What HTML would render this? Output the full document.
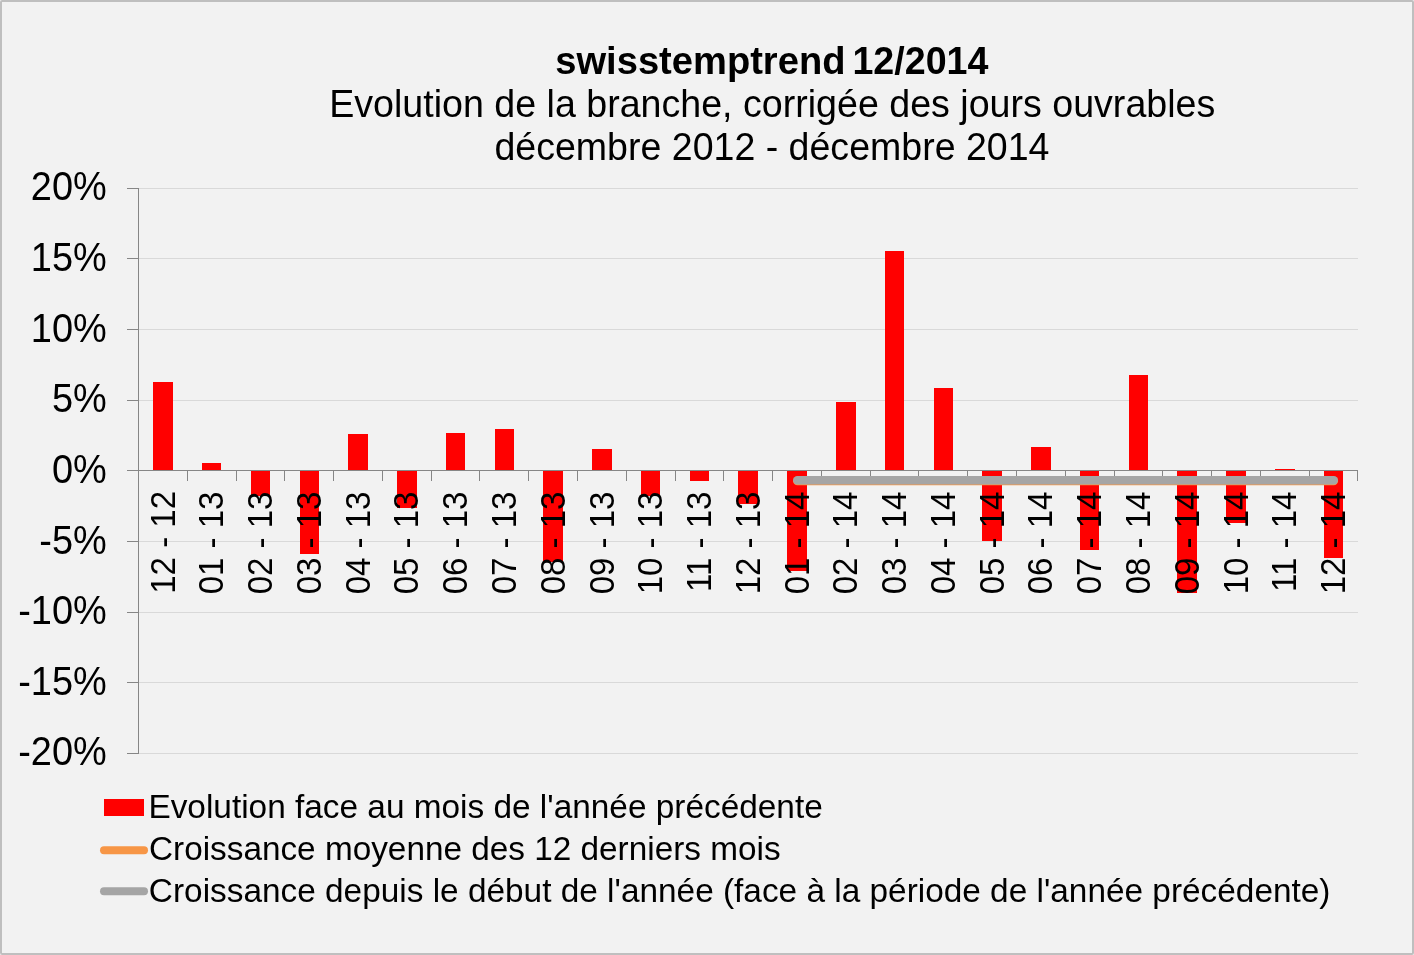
<!DOCTYPE html>
<html lang="fr"><head><meta charset="utf-8"><title>swisstemptrend 12/2014</title>
<style>html,body{margin:0;padding:0;background:#f2f2f2;overflow:hidden}svg{display:block}text{font-family:"Liberation Sans",sans-serif;fill:#000}.g{fill:#d9d9d9}.a{fill:#868686}.b{fill:#ff0000}</style></head><body>
<svg width="1414" height="955" viewBox="0 0 1414 955">
<rect x="0" y="0" width="1414" height="955" fill="#f2f2f2"/>
<rect x="1" y="1" width="1412" height="953" rx="1.2" ry="1.2" fill="none" stroke="#bfbfbf" stroke-width="2"/>
<g shape-rendering="crispEdges">
<rect class="g" x="139" y="188" width="1219" height="1"/>
<rect class="g" x="139" y="258" width="1219" height="1"/>
<rect class="g" x="139" y="329" width="1219" height="1"/>
<rect class="g" x="139" y="400" width="1219" height="1"/>
<rect class="g" x="139" y="541" width="1219" height="1"/>
<rect class="g" x="139" y="612" width="1219" height="1"/>
<rect class="g" x="139" y="682" width="1219" height="1"/>
<rect class="g" x="139" y="753" width="1219" height="1"/>
<rect class="b" x="153" y="382" width="20" height="88"/>
<rect class="b" x="202" y="463" width="19" height="7"/>
<rect class="b" x="251" y="471" width="19" height="25"/>
<rect class="b" x="300" y="471" width="19" height="83"/>
<rect class="b" x="348" y="434" width="20" height="36"/>
<rect class="b" x="397" y="471" width="20" height="37"/>
<rect class="b" x="446" y="433" width="19" height="37"/>
<rect class="b" x="495" y="429" width="19" height="41"/>
<rect class="b" x="543" y="471" width="20" height="91"/>
<rect class="b" x="592" y="449" width="20" height="21"/>
<rect class="b" x="641" y="471" width="19" height="25"/>
<rect class="b" x="690" y="471" width="19" height="10"/>
<rect class="b" x="738" y="471" width="20" height="33"/>
<rect class="b" x="787" y="471" width="20" height="100"/>
<rect class="b" x="836" y="402" width="20" height="68"/>
<rect class="b" x="885" y="251" width="19" height="219"/>
<rect class="b" x="934" y="388" width="19" height="82"/>
<rect class="b" x="982" y="471" width="20" height="70"/>
<rect class="b" x="1031" y="447" width="20" height="23"/>
<rect class="b" x="1080" y="471" width="19" height="79"/>
<rect class="b" x="1129" y="375" width="19" height="95"/>
<rect class="b" x="1177" y="471" width="20" height="122"/>
<rect class="b" x="1226" y="471" width="20" height="52"/>
<rect class="b" x="1275" y="469" width="20" height="1"/>
<rect class="b" x="1324" y="471" width="19" height="87"/>
<rect class="a" x="138" y="188" width="1" height="566"/>
<rect class="a" x="127" y="188" width="11" height="1"/>
<rect class="a" x="127" y="258" width="11" height="1"/>
<rect class="a" x="127" y="329" width="11" height="1"/>
<rect class="a" x="127" y="400" width="11" height="1"/>
<rect class="a" x="127" y="470" width="11" height="1"/>
<rect class="a" x="127" y="541" width="11" height="1"/>
<rect class="a" x="127" y="612" width="11" height="1"/>
<rect class="a" x="127" y="682" width="11" height="1"/>
<rect class="a" x="127" y="753" width="11" height="1"/>
<rect class="a" x="138" y="470" width="1220" height="1"/>
<rect class="a" x="187" y="471" width="1" height="10"/>
<rect class="a" x="236" y="471" width="1" height="10"/>
<rect class="a" x="284" y="471" width="1" height="10"/>
<rect class="a" x="333" y="471" width="1" height="10"/>
<rect class="a" x="382" y="471" width="1" height="10"/>
<rect class="a" x="431" y="471" width="1" height="10"/>
<rect class="a" x="479" y="471" width="1" height="10"/>
<rect class="a" x="528" y="471" width="1" height="10"/>
<rect class="a" x="577" y="471" width="1" height="10"/>
<rect class="a" x="626" y="471" width="1" height="10"/>
<rect class="a" x="675" y="471" width="1" height="10"/>
<rect class="a" x="723" y="471" width="1" height="10"/>
<rect class="a" x="772" y="471" width="1" height="10"/>
<rect class="a" x="821" y="471" width="1" height="10"/>
<rect class="a" x="870" y="471" width="1" height="10"/>
<rect class="a" x="918" y="471" width="1" height="10"/>
<rect class="a" x="967" y="471" width="1" height="10"/>
<rect class="a" x="1016" y="471" width="1" height="10"/>
<rect class="a" x="1065" y="471" width="1" height="10"/>
<rect class="a" x="1114" y="471" width="1" height="10"/>
<rect class="a" x="1162" y="471" width="1" height="10"/>
<rect class="a" x="1211" y="471" width="1" height="10"/>
<rect class="a" x="1260" y="471" width="1" height="10"/>
<rect class="a" x="1309" y="471" width="1" height="10"/>
<rect class="a" x="1357" y="471" width="1" height="10"/>
</g>
<line x1="797.3" y1="481.15" x2="1333.8" y2="481.15" stroke="#f79646" stroke-width="8.4" stroke-linecap="round"/>
<line x1="797.3" y1="480.2" x2="1333.8" y2="480.2" stroke="#a5a5a5" stroke-width="8.4" stroke-linecap="round"/>
<text y="73.7" font-size="38.2" font-weight="bold"><tspan x="555.28" textLength="290.19" lengthAdjust="spacingAndGlyphs">swisstemptrend</tspan> <tspan x="852.39" textLength="136.06" lengthAdjust="spacingAndGlyphs">12/2014</tspan></text>
<text transform="translate(329.21,117.00) scale(0.9845,1)" font-size="38.2">Evolution de la branche, corrigée des jours ouvrables</text>
<text transform="translate(494.41,159.90) scale(0.9831,1)" font-size="38.2">décembre 2012 - décembre 2014</text>
<text transform="translate(148.39,818.20) scale(0.9817,1)" font-size="34.0">Evolution face au mois de l'année précédente</text>
<text transform="translate(148.98,860.00) scale(0.9804,1)" font-size="34.0">Croissance moyenne des 12 derniers mois</text>
<text transform="translate(148.86,901.80) scale(0.9816,1)" font-size="34.0">Croissance depuis le début de l'année (face à la période de l'année précédente)</text>
<text transform="translate(106.77,200.00) scale(0.9442,1)" font-size="40.2" text-anchor="end">20%</text>
<text transform="translate(106.77,271.00) scale(0.9442,1)" font-size="40.2" text-anchor="end">15%</text>
<text transform="translate(106.77,342.00) scale(0.9442,1)" font-size="40.2" text-anchor="end">10%</text>
<text transform="translate(106.77,412.00) scale(0.9442,1)" font-size="40.2" text-anchor="end">5%</text>
<text transform="translate(106.77,483.00) scale(0.9442,1)" font-size="40.2" text-anchor="end">0%</text>
<text transform="translate(106.77,554.00) scale(0.9442,1)" font-size="40.2" text-anchor="end">-5%</text>
<text transform="translate(106.77,624.00) scale(0.9442,1)" font-size="40.2" text-anchor="end">-10%</text>
<text transform="translate(106.77,695.00) scale(0.9442,1)" font-size="40.2" text-anchor="end">-15%</text>
<text transform="translate(106.77,765.00) scale(0.9442,1)" font-size="40.2" text-anchor="end">-20%</text>
<text transform="translate(174.58,490.90) rotate(-90) scale(0.9525,1)" font-size="34.7" text-anchor="end">12 - 12</text>
<text transform="translate(223.35,491.50) rotate(-90) scale(0.9525,1)" font-size="34.7" text-anchor="end">01 - 13</text>
<text transform="translate(272.12,491.50) rotate(-90) scale(0.9525,1)" font-size="34.7" text-anchor="end">02 - 13</text>
<text transform="translate(320.90,491.50) rotate(-90) scale(0.9525,1)" font-size="34.7" text-anchor="end">03 - 13</text>
<text transform="translate(369.67,491.50) rotate(-90) scale(0.9525,1)" font-size="34.7" text-anchor="end">04 - 13</text>
<text transform="translate(418.44,491.50) rotate(-90) scale(0.9525,1)" font-size="34.7" text-anchor="end">05 - 13</text>
<text transform="translate(467.20,491.50) rotate(-90) scale(0.9525,1)" font-size="34.7" text-anchor="end">06 - 13</text>
<text transform="translate(515.98,491.50) rotate(-90) scale(0.9525,1)" font-size="34.7" text-anchor="end">07 - 13</text>
<text transform="translate(564.75,491.50) rotate(-90) scale(0.9525,1)" font-size="34.7" text-anchor="end">08 - 13</text>
<text transform="translate(613.52,491.50) rotate(-90) scale(0.9525,1)" font-size="34.7" text-anchor="end">09 - 13</text>
<text transform="translate(662.29,491.50) rotate(-90) scale(0.9525,1)" font-size="34.7" text-anchor="end">10 - 13</text>
<text transform="translate(711.06,491.50) rotate(-90) scale(0.9525,1)" font-size="34.7" text-anchor="end">11 - 13</text>
<text transform="translate(759.83,491.50) rotate(-90) scale(0.9525,1)" font-size="34.7" text-anchor="end">12 - 13</text>
<text transform="translate(808.60,491.50) rotate(-90) scale(0.9525,1)" font-size="34.7" text-anchor="end">01 - 14</text>
<text transform="translate(857.37,491.50) rotate(-90) scale(0.9525,1)" font-size="34.7" text-anchor="end">02 - 14</text>
<text transform="translate(906.14,491.50) rotate(-90) scale(0.9525,1)" font-size="34.7" text-anchor="end">03 - 14</text>
<text transform="translate(954.91,491.50) rotate(-90) scale(0.9525,1)" font-size="34.7" text-anchor="end">04 - 14</text>
<text transform="translate(1003.68,491.50) rotate(-90) scale(0.9525,1)" font-size="34.7" text-anchor="end">05 - 14</text>
<text transform="translate(1052.44,491.50) rotate(-90) scale(0.9525,1)" font-size="34.7" text-anchor="end">06 - 14</text>
<text transform="translate(1101.22,491.50) rotate(-90) scale(0.9525,1)" font-size="34.7" text-anchor="end">07 - 14</text>
<text transform="translate(1149.99,491.50) rotate(-90) scale(0.9525,1)" font-size="34.7" text-anchor="end">08 - 14</text>
<text transform="translate(1198.76,491.50) rotate(-90) scale(0.9525,1)" font-size="34.7" text-anchor="end">09 - 14</text>
<text transform="translate(1247.53,491.50) rotate(-90) scale(0.9525,1)" font-size="34.7" text-anchor="end">10 - 14</text>
<text transform="translate(1296.30,491.50) rotate(-90) scale(0.9525,1)" font-size="34.7" text-anchor="end">11 - 14</text>
<text transform="translate(1345.07,491.50) rotate(-90) scale(0.9525,1)" font-size="34.7" text-anchor="end">12 - 14</text>
<rect class="b" x="104" y="799" width="40" height="17" shape-rendering="crispEdges"/>
<line x1="104" y1="850.2" x2="144" y2="850.2" stroke="#f79646" stroke-width="8" stroke-linecap="round"/>
<line x1="104" y1="891.3" x2="144" y2="891.3" stroke="#a5a5a5" stroke-width="8" stroke-linecap="round"/>
</svg></body></html>
